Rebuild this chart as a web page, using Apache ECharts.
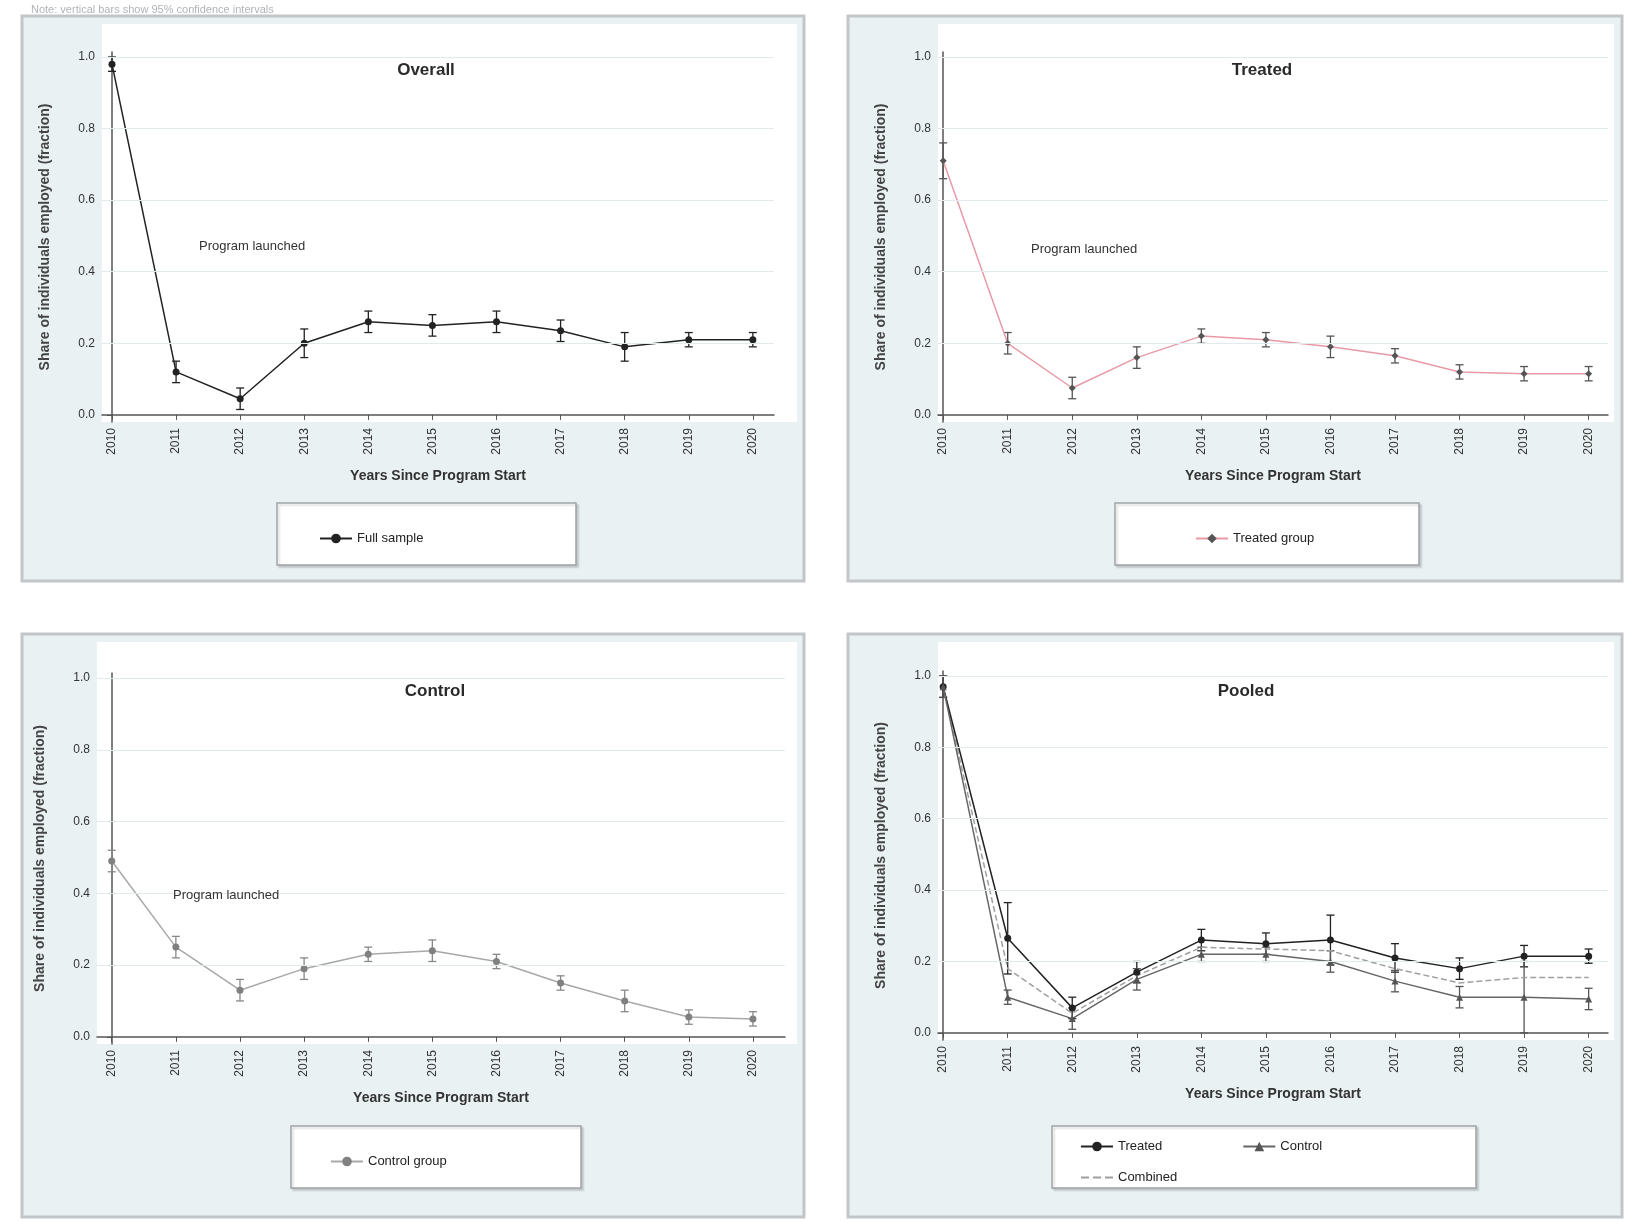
<!DOCTYPE html>
<html>
<head>
<meta charset="utf-8">
<script src="https://cdn.jsdelivr.net/npm/echarts/dist/echarts.min.js"></script>
<style>
html,body{margin:0;padding:0;background:#ffffff;}
#chart{width:1642px;height:1225px;}
</style>
</head>
<body>
<div id="chart"></div>
<script>
// ---- data ----
const xLabels = ['2010','2011','2012','2013','2014','2015','2016','2017','2018','2019','2020'];
const yTicks = [0, 0.2, 0.4, 0.6, 0.8, 1];
const yTickLabels = ['0.0', '0.2', '0.4', '0.6', '0.8', '1.0'];
const panelTitles = ['Overall', 'Treated', 'Control', 'Pooled'];
const xTitle = 'Years Since Program Start';
const yTitle = 'Share of individuals employed (fraction)';

const p1Est = [0.98, 0.12, 0.045, 0.20, 0.26, 0.25, 0.26, 0.235, 0.19, 0.21, 0.21];
const p1Err = [0.02, 0.03, 0.03, 0.04, 0.03, 0.03, 0.03, 0.03, 0.04, 0.02, 0.02];
const p2Est = [0.71, 0.20, 0.075, 0.16, 0.22, 0.21, 0.19, 0.165, 0.12, 0.115, 0.115];
const p2Err = [0.05, 0.03, 0.03, 0.03, 0.02, 0.02, 0.03, 0.02, 0.02, 0.02, 0.02];
const p3Est = [0.49, 0.25, 0.13, 0.19, 0.23, 0.24, 0.21, 0.15, 0.10, 0.055, 0.05];
const p3Err = [0.03, 0.03, 0.03, 0.03, 0.02, 0.03, 0.02, 0.02, 0.03, 0.02, 0.02];
const p4A = [0.97, 0.265, 0.07, 0.17, 0.26, 0.25, 0.26, 0.21, 0.18, 0.215, 0.215];
const p4AErr = [0.03, 0.10, 0.03, 0.03, 0.03, 0.03, 0.07, 0.04, 0.03, 0.03, 0.02];
const p4B = [0.97, 0.10, 0.04, 0.15, 0.22, 0.22, 0.20, 0.145, 0.10, 0.10, 0.095];
const p4BErr = [0.03, 0.02, 0.03, 0.03, 0.02, 0.02, 0.03, 0.03, 0.03, 0.10, 0.03];
const p4Comb = [0.97, 0.18, 0.055, 0.16, 0.24, 0.235, 0.23, 0.18, 0.14, 0.155, 0.155];

const legendNames = [['Full sample'], ['Treated group'], ['Control group'], ['Treated', 'Control', 'Combined']];
const annotText = 'Program launched';
const noteText = 'Note: vertical bars show 95% confidence intervals';

// ---- layout ----
const FONT = 'Liberation Sans, Arial, sans-serif';
const panels = [
  {box:[22,16,782,565], plot:[102,24,695,398], grid:{left:102, top:52, width:672, height:370}, xmin:-0.156, xmax:10.33, title:[421,57], ann:[199,240], leg:[277,503,299,62]},
  {box:[848,16,774,565], plot:[938,24,676,398], grid:{left:938, top:52, width:670, height:370}, xmin:-0.08, xmax:10.3, title:[1257,57], ann:[1031,243], leg:[1115,503,304,62]},
  {box:[22,634,782,583], plot:[97,642,700,402], grid:{left:97, top:673, width:688, height:371}, xmin:-0.23, xmax:10.5, title:[430,678], ann:[173,889], leg:[291,1126,290,62]},
  {box:[848,634,774,583], plot:[938,642,676,398], grid:{left:938, top:671, width:670, height:369}, xmin:-0.08, xmax:10.3, title:[1241,678], ann:null, leg:[1052,1126,424,62]}
];

const ymin = -0.02, ymax = 1.014;

function pts(arr){ return arr.map((v,i)=>[i, v]); }
function bars(est, err){ return est.map((v,i)=>[i, v-err[i], v+err[i]]); }

function errSeries(p, est, err, color){
  return {
    type:'custom', xAxisIndex:p, yAxisIndex:p, silent:true, z:3,
    data: bars(est, err),
    encode:{x:0, y:[1,2]},
    renderItem:function(params, api){
      const x = api.value(0);
      const lo = api.coord([x, api.value(1)]);
      const hi = api.coord([x, api.value(2)]);
      const w = 4;
      const st = {stroke:color, lineWidth:1.3};
      return {type:'group', children:[
        {type:'line', shape:{x1:lo[0], y1:lo[1], x2:hi[0], y2:hi[1]}, style:st},
        {type:'line', shape:{x1:lo[0]-w, y1:lo[1], x2:lo[0]+w, y2:lo[1]}, style:st},
        {type:'line', shape:{x1:hi[0]-w, y1:hi[1], x2:hi[0]+w, y2:hi[1]}, style:st}
      ]};
    }
  };
}

function gridLines(){
  return {
    silent:true, symbol:['none','none'], label:{show:false},
    lineStyle:{color:'#e3eaed', type:'solid', width:1},
    data: yTicks.filter(v=>v>0).map(v=>({yAxis:v}))
  };
}

function lineSeries(p, name, est, color, lineColor, symbol, dashed, withGrid){
  const s = {
    type:'line', name:name, xAxisIndex:p, yAxisIndex:p,
    data: pts(est), symbol:symbol, symbolSize:7,
    itemStyle:{color:color},
    lineStyle:{color:lineColor, width:1.5, type: dashed ? 'dashed' : 'solid'},
    z:4, animation:false
  };
  if (withGrid) s.markLine = gridLines();
  return s;
}

const grids = [], xAxes = [], yAxes = [], titles = [], legends = [], graphics = [];

panels.forEach((pn, p) => {
  grids.push(pn.grid);
  xAxes.push({
    type:'value', gridIndex:p, min:pn.xmin, max:pn.xmax,
    name:xTitle, nameLocation:'middle', nameGap:47,
    nameTextStyle:{fontFamily:FONT, fontSize:14, fontWeight:'bold', color:'#333'},
    axisLine:{show:true, lineStyle:{color:'#555', width:1.5}},
    axisTick:{show:true, length:5, customValues:xLabels.map((_,i)=>i), lineStyle:{color:'#555'}},
    axisLabel:{customValues:xLabels.map((_,i)=>i), rotate:90, fontFamily:FONT, fontSize:12, color:'#333', margin:6,
      formatter:function(v){ return xLabels[Math.round(v)]; }},
    splitLine:{show:false}
  });
  yAxes.push({
    type:'value', gridIndex:p, min:ymin, max:ymax,
    name:yTitle, nameLocation:'middle', nameGap:50,
    nameTextStyle:{fontFamily:FONT, fontSize:14, fontWeight:'bold', color:'#444'},
    axisLine:{show:true, lineStyle:{color:'#555', width:1.5}},
    axisTick:{show:true, length:5, customValues:yTicks, lineStyle:{color:'#555'}},
    axisLabel:{customValues:yTicks, fontFamily:FONT, fontSize:12, color:'#333', margin:7,
      formatter:function(v){ const k = yTicks.findIndex(t=>Math.abs(t-v)<1e-6); return k>=0 ? yTickLabels[k] : ''; }},
    splitLine:{show:false}
  });
  titles.push({
    text:panelTitles[p], left:pn.title[0], top:pn.title[1], textAlign:'center',
    textStyle:{fontFamily:FONT, fontSize:17, fontWeight:'bold', color:'#2a2a2a'}
  });
  graphics.push({type:'rect', z:-30, silent:true,
    shape:{x:pn.box[0], y:pn.box[1], width:pn.box[2], height:pn.box[3]},
    style:{fill:'#eaf1f3', stroke:'#c2c6c8', lineWidth:3}});
  graphics.push({type:'rect', z:-20, silent:true,
    shape:{x:pn.plot[0], y:pn.plot[1], width:pn.plot[2], height:pn.plot[3]},
    style:{fill:'#ffffff', stroke:null}});
  graphics.push({type:'rect', z:-10, silent:true,
    shape:{x:pn.leg[0], y:pn.leg[1], width:pn.leg[2], height:pn.leg[3]},
    style:{fill:'#ffffff', stroke:'#9ea3a6', lineWidth:1.5, shadowColor:'rgba(0,0,0,0.15)', shadowOffsetX:2, shadowOffsetY:2, shadowBlur:2}});
  if (pn.ann) {
    graphics.push({type:'text', z:10, silent:true, x:pn.ann[0], y:pn.ann[1],
      style:{text:annotText, font:'13px ' + FONT, fill:'#333'}});
  }
});

graphics.push({type:'text', z:10, silent:true, x:31, y:4,
  style:{text:noteText, font:'11px ' + FONT, fill:'#b0b4b6'}});

const legBase = {itemWidth:32, itemHeight:12, itemGap:40, orient:'horizontal',
  textStyle:{fontFamily:FONT, fontSize:13, color:'#222'}, backgroundColor:'transparent'};
legends.push(Object.assign({}, legBase, {data:legendNames[0], left:314, top:527}));
legends.push(Object.assign({}, legBase, {data:legendNames[1], left:1190, top:527}));
legends.push(Object.assign({}, legBase, {data:legendNames[2], left:325, top:1150}));
legends.push(Object.assign({}, legBase, {data:[legendNames[3][0], legendNames[3][1]], left:1075, top:1135, itemGap:80}));
legends.push(Object.assign({}, legBase, {data:[{name:legendNames[3][2], itemStyle:{opacity:0}}], left:1075, top:1166}));

const series = [
  errSeries(0, p1Est, p1Err, '#222'),
  lineSeries(0, legendNames[0][0], p1Est, '#222', '#222', 'circle', false, true),
  errSeries(1, p2Est, p2Err, '#555'),
  lineSeries(1, legendNames[1][0], p2Est, '#555', '#e79aa6', 'diamond', false, true),
  errSeries(2, p3Est, p3Err, '#888'),
  lineSeries(2, legendNames[2][0], p3Est, '#808080', '#a8a8a8', 'circle', false, true),
  lineSeries(3, legendNames[3][2], p4Comb, '#9a9a9a', '#a0a0a0', 'none', true, true),
  errSeries(3, p4A, p4AErr, '#222'),
  lineSeries(3, legendNames[3][0], p4A, '#222', '#222', 'circle', false, false),
  errSeries(3, p4B, p4BErr, '#555'),
  lineSeries(3, legendNames[3][1], p4B, '#555', '#666', 'triangle', false, false)
];

const chart = echarts.init(document.getElementById('chart'), null, {renderer:'canvas'});
chart.setOption({
  animation:false,
  backgroundColor:'#ffffff',
  title:titles,
  grid:grids,
  xAxis:xAxes,
  yAxis:yAxes,
  legend:legends,
  graphic:graphics,
  series:series
});
</script>
</body>
</html>
